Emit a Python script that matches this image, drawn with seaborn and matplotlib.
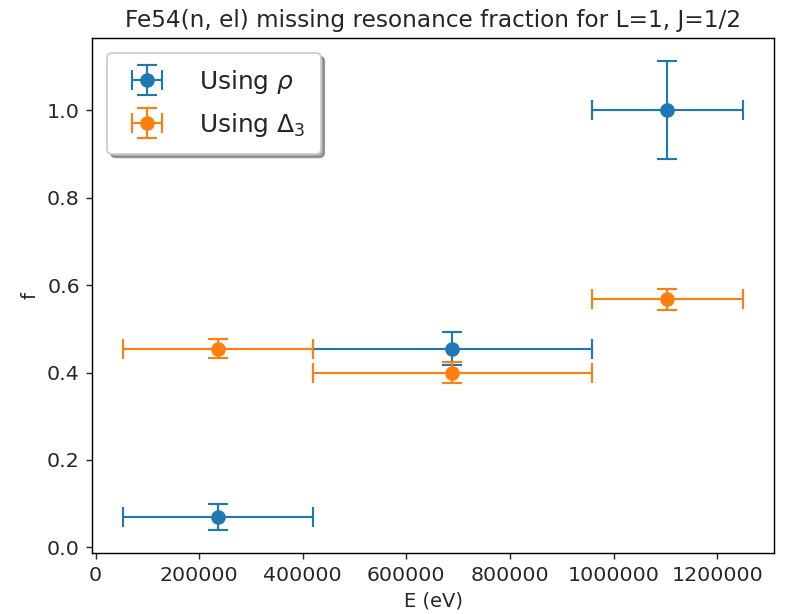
import matplotlib
matplotlib.use('Agg')
import matplotlib.pyplot as plt
import seaborn as sns
from matplotlib.legend_handler import HandlerErrorbar

# Energy bins (eV) and fraction values
bin_lo = [53500, 419000, 958000]
bin_hi = [419000, 958000, 1250000]
f_rho = [0.07, 0.455, 1.0]
f_rho_err = [0.030, 0.038, 0.112]
f_delta = [0.455, 0.40, 0.568]
f_delta_err = [0.022, 0.024, 0.024]

labels = [r'Using $\rho$', r'Using $\Delta_3$']
title = 'Fe54(n, el) missing resonance fraction for L=1, J=1/2'

sns.set_style('ticks')
plt.rcParams['font.family'] = ['DejaVu Sans']
colors = sns.color_palette('tab10')

e_mid = [(lo + hi) / 2 for lo, hi in zip(bin_lo, bin_hi)]
e_half = [(hi - lo) / 2 for lo, hi in zip(bin_lo, bin_hi)]

fig = plt.figure(figsize=(789 / 128, 614 / 128), dpi=128)
ax = fig.add_axes([0.117, 0.099, 0.864, 0.839])

for y, yerr, c, lab in [(f_rho, f_rho_err, colors[0], labels[0]),
                        (f_delta, f_delta_err, colors[1], labels[1])]:
    ax.errorbar(e_mid, y, xerr=e_half, yerr=yerr, fmt='o', color=c,
                ms=7.2, capsize=5.5, elinewidth=1.2, capthick=1.2, label=lab)

ax.ticklabel_format(axis='x', style='plain', useOffset=False)
ax.set_title(title, fontsize=13)
ax.set_xlabel('E (eV)', fontsize=11)
ax.set_ylabel('f', fontsize=11)
ax.tick_params(labelsize=11.5, direction='out', length=3.5, width=0.8)
for s in ax.spines.values():
    s.set_linewidth(0.8)
    s.set_color('black')

leg = ax.legend(loc='upper left', fontsize=14, fancybox=True, shadow=True,
                framealpha=1, borderaxespad=0.6, handletextpad=1.1,
                labelspacing=0.6, borderpad=0.6,
                handler_map={type(ax.containers[0]): HandlerErrorbar(xerr_size=0.6)})
leg.get_frame().set_edgecolor('0.8')

fig.savefig('out.png', dpi=128)
